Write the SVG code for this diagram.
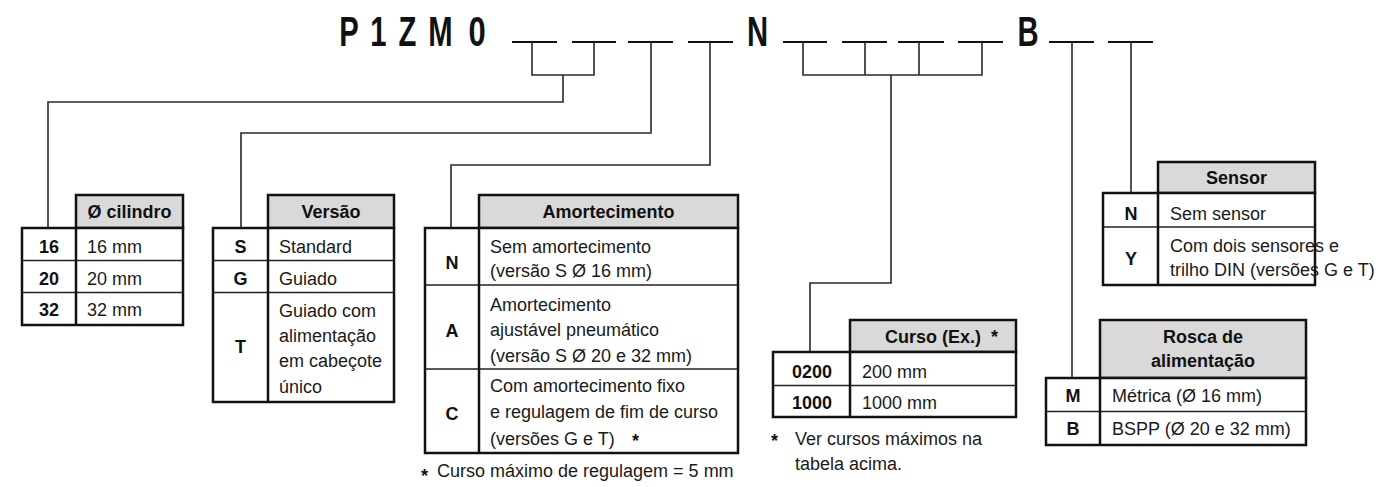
<svg xmlns="http://www.w3.org/2000/svg" width="1395" height="487" viewBox="0 0 1395 487">
<style>
  .t { font-family: "Liberation Sans", Arial, sans-serif; font-size: 18px; fill: #1a1a1a; }
  .b { font-family: "Liberation Sans", Arial, sans-serif; font-size: 18px; font-weight: bold; fill: #111; }
  .c { text-anchor: middle; }
  .big { font-family: "Liberation Sans", Arial, sans-serif; font-size: 43px; font-weight: bold; fill: #111; text-anchor: middle; }
  .hd { fill: #d9d9d9; stroke: #111; stroke-width: 2.5; }
  .bx { fill: #fff; stroke: #111; stroke-width: 2.5; }
  .col { stroke: #111; stroke-width: 2.5; }
  .row { stroke: #222; stroke-width: 1.5; }
  .dash { stroke: #111; stroke-width: 2; fill: none; }
  .conn { stroke: #2a2a2a; stroke-width: 1.6; fill: none; }
</style>

<g id="code">
  <text class="big" transform="translate(349,46) scale(0.68,1)">P</text>
  <text class="big" transform="translate(378.5,46) scale(0.68,1)">1</text>
  <text class="big" transform="translate(407.5,46) scale(0.68,1)">Z</text>
  <text class="big" transform="translate(440.5,46) scale(0.68,1)">M</text>
  <text class="big" transform="translate(477,46) scale(0.72,1)">0</text>
  <text class="big" transform="translate(757.5,46) scale(0.68,1)">N</text>
  <text class="big" transform="translate(1028,46) scale(0.68,1)">B</text>
</g>

<g id="connectors">
  <g class="dash">
    <line x1="512" y1="42" x2="557" y2="42"/>
    <line x1="572" y1="42" x2="616" y2="42"/>
    <line x1="628" y1="42" x2="673" y2="42"/>
    <line x1="688" y1="42" x2="733" y2="42"/>
    <line x1="783" y1="42" x2="827" y2="42"/>
    <line x1="842" y1="42" x2="887" y2="42"/>
    <line x1="898" y1="42" x2="944" y2="42"/>
    <line x1="958" y1="42" x2="1003" y2="42"/>
    <line x1="1049" y1="42" x2="1094" y2="42"/>
    <line x1="1108" y1="42" x2="1153" y2="42"/>
  </g>
  <path class="conn" d="M532,42 V75 H594 V42 M563,75 V102 H48 V228"/>
  <path class="conn" d="M651,42 V133 H241 V228"/>
  <path class="conn" d="M710,42 V165 H451 V228"/>
  <path class="conn" d="M803,42 V75 H982 V42 M865,42 V75 M919,42 V75 M891,75 V283 H810 V352"/>
  <path class="conn" d="M1072,42 V378"/>
  <path class="conn" d="M1131,42 V193"/>
</g>

<g id="cilindro">
  <rect class="hd" x="76" y="195" width="107" height="33"/>
  <rect class="bx" x="22" y="228" width="161" height="97"/>
  <line class="row" x1="22" y1="260.5" x2="183" y2="260.5"/>
  <line class="row" x1="22" y1="292.5" x2="183" y2="292.5"/>
  <line class="col" x1="76" y1="228" x2="76" y2="325"/>
  <text class="b c" x="129.5" y="218">Ø cilindro</text>
  <text class="b c" x="49" y="253">16</text>
  <text class="t" x="87" y="253">16 mm</text>
  <text class="b c" x="49" y="285">20</text>
  <text class="t" x="87" y="285">20 mm</text>
  <text class="b c" x="49" y="316">32</text>
  <text class="t" x="87" y="316">32 mm</text>
</g>

<g id="versao">
  <rect class="hd" x="268" y="195" width="126" height="33"/>
  <rect class="bx" x="213" y="228" width="181" height="174"/>
  <line class="row" x1="213" y1="260.5" x2="394" y2="260.5"/>
  <line class="row" x1="213" y1="292.5" x2="394" y2="292.5"/>
  <line class="col" x1="268" y1="228" x2="268" y2="402"/>
  <text class="b c" x="331" y="218">Versão</text>
  <text class="b c" x="240.5" y="253">S</text>
  <text class="t" x="279" y="253">Standard</text>
  <text class="b c" x="240.5" y="285">G</text>
  <text class="t" x="279" y="285">Guiado</text>
  <text class="b c" x="240.5" y="353">T</text>
  <text class="t" x="279" y="317">Guiado com</text>
  <text class="t" x="279" y="342">alimentação</text>
  <text class="t" x="279" y="367">em cabeçote</text>
  <text class="t" x="279" y="393">único</text>
</g>

<g id="amortecimento">
  <rect class="hd" x="479" y="195" width="259" height="33"/>
  <rect class="bx" x="425" y="228" width="313" height="225"/>
  <line class="row" x1="425" y1="285" x2="738" y2="285"/>
  <line class="row" x1="425" y1="369" x2="738" y2="369"/>
  <line class="col" x1="479" y1="228" x2="479" y2="453"/>
  <text class="b c" x="608.5" y="218">Amortecimento</text>
  <text class="b c" x="452" y="269">N</text>
  <text class="t" x="490" y="253">Sem amortecimento</text>
  <text class="t" x="490" y="277">(versão S Ø 16 mm)</text>
  <text class="b c" x="452" y="337">A</text>
  <text class="t" x="490" y="311">Amortecimento</text>
  <text class="t" x="490" y="336">ajustável pneumático</text>
  <text class="t" x="490" y="362">(versão S Ø 20 e 32 mm)</text>
  <text class="b c" x="452" y="420">C</text>
  <text class="t" x="490" y="392">Com amortecimento fixo</text>
  <text class="t" x="490" y="418">e regulagem de fim de curso</text>
  <text class="t" x="490" y="445">(versões G e T)</text>
  <text class="b" x="632" y="447">*</text>
  <text class="b" x="421" y="482">*</text>
  <text class="t" x="437" y="477">Curso máximo de regulagem = 5 mm</text>
</g>

<g id="curso">
  <rect class="hd" x="850" y="320" width="166" height="32"/>
  <rect class="bx" x="773" y="352" width="243" height="65"/>
  <line class="row" x1="773" y1="385.5" x2="1016" y2="385.5"/>
  <line class="col" x1="850" y1="352" x2="850" y2="417"/>
  <text class="b" x="885" y="343">Curso (Ex.)</text>
  <text class="b" x="991" y="343">*</text>
  <text class="b c" x="812" y="378">0200</text>
  <text class="t" x="862" y="378">200 mm</text>
  <text class="b c" x="812" y="409">1000</text>
  <text class="t" x="862" y="409">1000 mm</text>
  <text class="b" x="771" y="447">*</text>
  <text class="t" x="795" y="445">Ver cursos máximos na</text>
  <text class="t" x="795" y="470">tabela acima.</text>
</g>

<g id="rosca">
  <rect class="hd" x="1100" y="320" width="206" height="58"/>
  <rect class="bx" x="1046" y="378" width="260" height="67"/>
  <line class="row" x1="1046" y1="411.5" x2="1306" y2="411.5"/>
  <line class="col" x1="1100" y1="378" x2="1100" y2="445"/>
  <text class="b c" x="1203" y="343">Rosca de</text>
  <text class="b c" x="1203" y="367">alimentação</text>
  <text class="b c" x="1073" y="402">M</text>
  <text class="t" x="1112" y="402">Métrica (Ø 16 mm)</text>
  <text class="b c" x="1073" y="435">B</text>
  <text class="t" x="1112" y="435">BSPP (Ø 20 e 32 mm)</text>
</g>

<g id="sensor">
  <rect class="hd" x="1158" y="162" width="157" height="31"/>
  <rect class="bx" x="1103" y="193" width="212" height="92"/>
  <line class="row" x1="1103" y1="227" x2="1315" y2="227"/>
  <line class="col" x1="1158" y1="193" x2="1158" y2="285"/>
  <text class="b c" x="1236.5" y="184">Sensor</text>
  <text class="b c" x="1131" y="220">N</text>
  <text class="t" x="1170" y="220">Sem sensor</text>
  <text class="b c" x="1131" y="265">Y</text>
  <text class="t" x="1170" y="252">Com dois sensores e</text>
  <text class="t" x="1170" y="276">trilho DIN (versões G e T)</text>
</g>
</svg>
